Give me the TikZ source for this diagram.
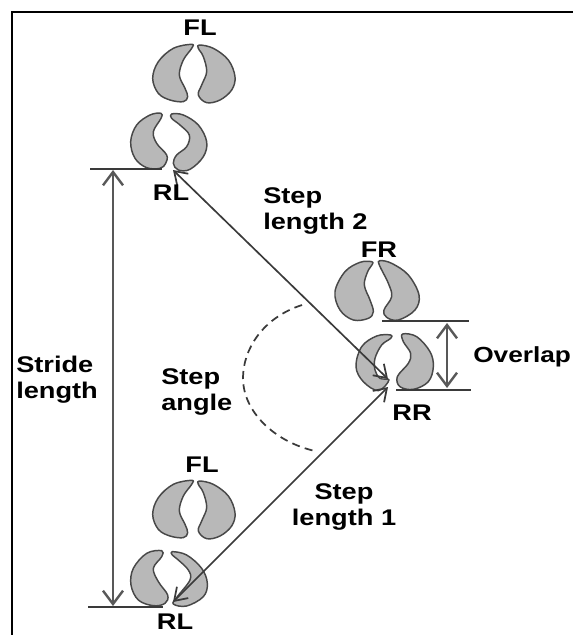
\documentclass[tikz,border=0pt]{standalone}
\usepackage{fontspec}
\setmainfont[FakeStretch=1.2]{Liberation Sans}
\usetikzlibrary{arrows.meta}
\definecolor{padfill}{HTML}{B8B8B8}
\definecolor{padedge}{HTML}{484848}
\definecolor{linegray}{HTML}{3A3A3A}
\tikzset{
  pad/.style={fill=padfill,draw=padedge,line width=1.1pt,line join=round},
  zoomed/.style={x=0.25pt,y=-0.25pt},
  lab/.style={font=\bfseries\fontsize{17}{19.5}\selectfont,text=black,inner sep=0pt,align=left},
  thinline/.style={draw=linegray,line width=1.2pt},
  stepline/.style={draw=linegray,line width=1.25pt,{Straight Barb[length=9pt,width=12pt,line width=1.3pt]}-{Straight Barb[length=9pt,width=12pt,line width=1.3pt]}},
  thickarrow/.style={draw=linegray!85,line width=1.8pt,{Straight Barb[length=10pt,width=15pt,line width=1.8pt]}-{Straight Barb[length=10pt,width=15pt,line width=1.8pt]}},
  arcline/.style={draw=linegray,line width=1.3pt,dash pattern=on 6pt off 4pt}
}
\newcommand{\frontpad}{%
  \draw[pad] plot[smooth cycle,tension=.6] coordinates {(275,133)(220,145)(175,185)(158,235)(175,280)(210,300)(250,305)(263,290)(255,265)(238,225)(250,180)(275,145)};
  \draw[pad] plot[smooth cycle,tension=.6] coordinates {(298,135)(340,145)(385,180)(405,230)(395,270)(360,300)(320,308)(295,285)(305,255)(320,215)(310,170)(295,145)};
}
\begin{document}
\begin{tikzpicture}[x=0.75pt,y=-0.75pt]
\useasboundingbox (0,0) rectangle (573,635);
\fill[white] (0,0) rectangle (573,635);
% frame
\draw[black,line width=1.6pt] (12,635) -- (12,12) -- (573,12);
% top FL
\begin{scope}[shift={(100,0)},zoomed]\frontpad\end{scope}
% bottom FL
\begin{scope}[shift={(100,436)},zoomed]\frontpad\end{scope}
% top RL
\begin{scope}[shift={(100,0)},zoomed]
  \draw[pad] plot[smooth cycle,tension=.6] coordinates {(183,340)(150,345)(110,375)(92,425)(105,475)(140,503)(180,505)(197,490)(200,465)(170,430)(160,395)(183,355)};
  \draw[pad] plot[smooth cycle,tension=.6] coordinates {(215,342)(250,345)(295,375)(320,425)(310,470)(270,508)(235,510)(220,490)(230,465)(260,440)(268,405)(240,375)(215,355)};
\end{scope}
% FR and RR
\begin{scope}[shift={(320,230)},zoomed]
  \draw[pad] plot[smooth cycle,tension=.6] coordinates {(155,95)(120,97)(75,125)(45,185)(60,240)(100,270)(145,265)(160,245)(150,210)(133,165)(143,125)(157,103)};
  \draw[pad] plot[smooth cycle,tension=.6] coordinates {(180,92)(215,100)(265,135)(297,195)(285,240)(235,270)(200,262)(192,240)(215,200)(205,160)(178,105)};
  \draw[pad] plot[smooth cycle,tension=.6] coordinates {(212,315)(170,318)(125,350)(108,410)(130,455)(175,482)(207,450)(180,445)(165,420)(165,385)(185,345)(212,325)};
  \draw[pad] plot[smooth cycle,tension=.6] coordinates {(248,312)(290,320)(330,365)(340,410)(325,455)(280,478)(240,470)(232,440)(265,400)(272,370)(250,335)};
\end{scope}
% bottom RL
\begin{scope}[shift={(90,440)},zoomed]
  \draw[pad] plot[smooth cycle,tension=.6] coordinates {(215,332)(170,340)(130,385)(123,435)(145,480)(190,497)(225,490)(233,465)(205,425)(190,385)(215,350)};
  \draw[pad] plot[smooth cycle,tension=.6] coordinates {(247,335)(290,345)(335,385)(352,430)(340,470)(290,498)(250,492)(262,470)(300,420)(295,390)(265,360)(247,345)};
\end{scope}
% connector ends
\coordinate (rlTopLeft) at (90,169);
\coordinate (rlTopRight) at (162,169);
\coordinate (rlBotLeft) at (88,607);
\coordinate (rlBotRight) at (163,607);
\coordinate (strideTop) at (113,170);
\coordinate (strideBot) at (113,606);
\coordinate (rlTopHeel) at (173,170);
\coordinate (rrHeelA) at (388,379);
\coordinate (rrHeelB) at (388,387);
\coordinate (rlBotHeel) at (173,602);
\coordinate (frLeft) at (382,321);
\coordinate (frRight) at (469,321);
\coordinate (rrLeft) at (396,390);
\coordinate (rrRight) at (471,390);
\coordinate (ovTop) at (447,323);
\coordinate (ovBot) at (447,388);
\coordinate (arcTop) at (302,305);
\coordinate (arcBot) at (315,451);
% connectors
\draw[thinline] (rlTopLeft) -- (rlTopRight);
\draw[thinline] (rlBotLeft) -- (rlBotRight);
\draw[thinline] (frLeft) -- (frRight);
\draw[thinline] (rrLeft) -- (rrRight);
\draw[thickarrow] (strideTop) -- (strideBot);
\draw[thickarrow] (ovTop) -- (ovBot);
\draw[stepline] (rlTopHeel) -- (rrHeelA);
\draw[stepline] (rlBotHeel) -- (rrHeelB);
\draw[arcline] (arcTop) .. controls (262,318) and (243,350) .. (243,378) .. controls (243,412) and (275,442) .. (arcBot);
% labels
\node[lab] (flTop) at (200,28) {FL};
\node[lab] (rlTop) at (171,193) {RL};
\node[lab] (fr) at (379,250) {FR};
\node[lab] (rr) at (412,413) {RR};
\node[lab,anchor=west,font=\bfseries\fontsize{16.4}{19.5}\selectfont] (overlap) at (473,357) {Overlap};
\node[lab] (flBot) at (202,465) {FL};
\node[lab] (rlBot) at (175,622) {RL};
\node[lab,anchor=west] (stepTwo) at (263,211) {Step\\length 2};
\node[lab,anchor=west] (stride) at (16,380) {Stride\\length};
\node[lab,anchor=west] (angle) at (161,392) {Step\\angle};
\node[lab,align=center] (stepOne) at (344,507) {Step\\length 1};
\end{tikzpicture}
\end{document}
